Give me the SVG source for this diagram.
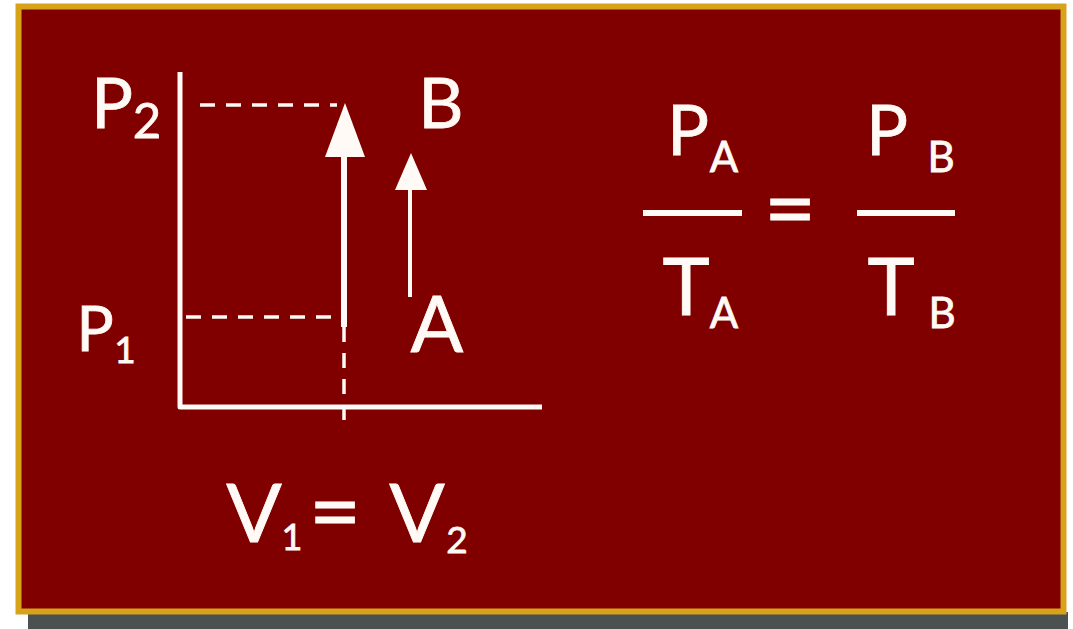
<svg xmlns="http://www.w3.org/2000/svg" width="1073" height="629" viewBox="0 0 1073 629">
<style>
.t{font-family:Lato,"Open Sans","Liberation Sans",sans-serif;fill:#fffaf5;stroke:#fffaf5;stroke-width:0.8;text-anchor:middle}
.ln{stroke:#fffaf5;fill:none}
.dash{stroke:#fffaf5;stroke-width:3.5;stroke-dasharray:15 11;fill:none}
.hd{fill:#fffaf5}
</style>
<rect x="0" y="0" width="1073" height="629" fill="#ffffff"/>
<g id="frame">
<rect x="28" y="612" width="1040" height="17" fill="#4b5050"/>
<rect x="18.5" y="6.5" width="1045" height="605" fill="#800000" stroke="#d9a21b" stroke-width="6"/>
</g>
<g id="axes">
<polyline class="ln" points="180,72 180,407 542,407" stroke-width="5" stroke-linejoin="round"/>
</g>
<g id="connectors">
<line class="dash" x1="200" y1="105" x2="337" y2="105"/>
<line class="dash" x1="186" y1="317" x2="338" y2="317"/>
<line class="dash" x1="344" y1="327" x2="344" y2="423" stroke-dasharray="12 8"/>
<line class="ln" x1="344" y1="327" x2="344" y2="155" stroke-width="6"/>
<polygon class="hd" points="325,157 365,157 345,103"/>
<line class="ln" x1="410" y1="297" x2="410" y2="188" stroke-width="4"/>
<polygon class="hd" points="395,190 427,190 411,153"/>
</g>
<g id="label-P2"><text class="t" x="112" y="128" font-size="70">P</text><text class="t" x="147" y="138" font-size="49">2</text></g>
<g id="label-P1"><text class="t" x="95" y="351" font-size="62">P</text><text class="t" x="125" y="363" font-size="37">1</text></g>
<g id="label-B"><text class="t" x="441" y="128" font-size="70">B</text></g>
<g id="label-A"><text class="t" x="437" y="352" font-size="78">A</text></g>
<g id="label-V"><text class="t" x="254" y="542" font-size="82">V</text><text class="t" x="292" y="550" font-size="36">1</text><text class="t" x="335" y="543" font-size="90">=</text><text class="t" x="417" y="542" font-size="82">V</text><text class="t" x="457" y="553" font-size="37">2</text></g>
<g id="formula">
<text class="t" x="688" y="155" font-size="70">P</text><text class="t" x="724" y="172" font-size="42">A</text>
<line class="ln" x1="643" y1="213" x2="742" y2="213" stroke-width="6"/>
<text class="t" x="686" y="315" font-size="80">T</text><text class="t" x="724" y="328" font-size="42">A</text>
<text class="t" x="790" y="240" font-size="90">=</text>
<text class="t" x="887" y="155" font-size="70">P</text><text class="t" x="941" y="172" font-size="42">B</text>
<line class="ln" x1="857" y1="213" x2="955" y2="213" stroke-width="6"/>
<text class="t" x="891" y="315" font-size="80">T</text><text class="t" x="942" y="328" font-size="42">B</text>
</g>
</svg>
